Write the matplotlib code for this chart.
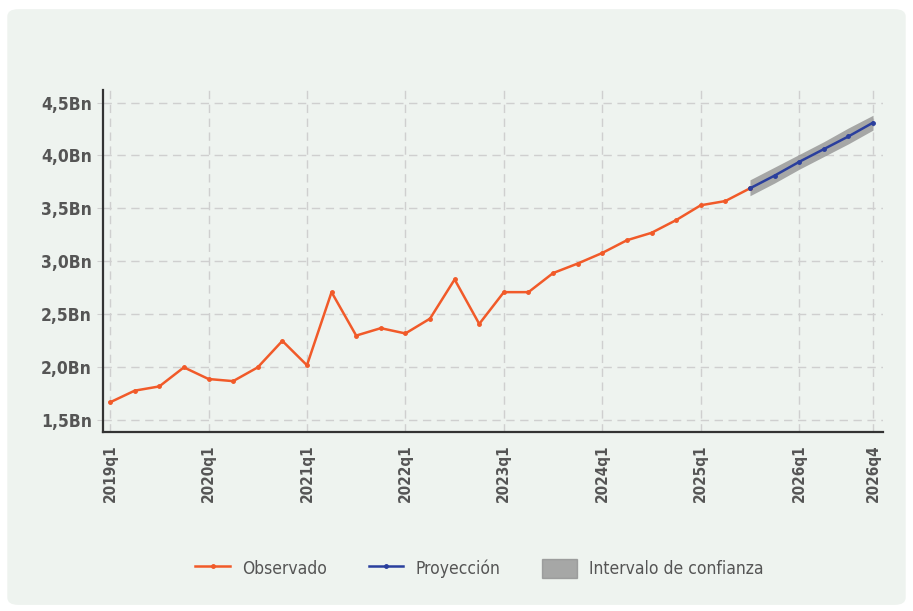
import numpy as np
import matplotlib.pyplot as plt
from matplotlib.patches import FancyBboxPatch

# quarters 2019q1 .. 2026q4
quarters = [f"{y}q{q}" for y in range(2019, 2027) for q in range(1, 5)]

observado = [1.67, 1.78, 1.82, 2.00, 1.89, 1.87, 2.00, 2.25,
             2.02, 2.71, 2.30, 2.37, 2.32, 2.46, 2.83, 2.41,
             2.71, 2.71, 2.89, 2.98, 3.08, 3.20, 3.27, 3.39,
             3.53, 3.57, 3.69]
proyeccion = [3.69, 3.81, 3.94, 4.06, 4.18, 4.31]
ic_inferior = [3.62, 3.74, 3.87, 3.99, 4.11, 4.24]
ic_superior = [3.77, 3.89, 4.01, 4.13, 4.26, 4.38]

xtick_labels = ["2019q1", "2020q1", "2021q1", "2022q1", "2023q1",
                "2024q1", "2025q1", "2026q1", "2026q4"]
ytick_values = [1.5, 2.0, 2.5, 3.0, 3.5, 4.0, 4.5]
ytick_labels = ["1,5Bn", "2,0Bn", "2,5Bn", "3,0Bn", "3,5Bn", "4,0Bn", "4,5Bn"]

orange = "#f15a29"
blue = "#2a3f9d"
band = "#8e8e8e"
txt = "#555555"

fig = plt.figure(figsize=(9.13, 6.11), dpi=100)
fig.patch.set_facecolor("white")
panel = FancyBboxPatch((0.008, 0.01), 0.984, 0.975, boxstyle="round,pad=0,rounding_size=0.012",
                       transform=fig.transFigure, facecolor="#eef3ef", edgecolor="none", zorder=-10)
fig.patches.append(panel)

ax = fig.add_axes([0.113, 0.293, 0.854, 0.56])
ax.set_facecolor("none")
ax.set_zorder(1)

x_obs = np.arange(len(observado))
x_proj = np.arange(len(observado) - 1, len(observado) - 1 + len(proyeccion))

ax.fill_between(x_proj, ic_inferior, ic_superior, color=band, alpha=0.75, lw=0, zorder=2)
ax.plot(x_obs, observado, color=orange, lw=1.8, marker="o", ms=2.5, zorder=3)
ax.plot(x_proj, proyeccion, color=blue, lw=1.8, marker="o", ms=2.5, zorder=4)

xt = [quarters.index(q) for q in xtick_labels]
ax.set_xticks(xt)
ax.set_xticklabels(xtick_labels, rotation=90, fontsize=11, fontweight="bold",
                   color=txt, fontstretch="condensed")
ax.set_yticks(ytick_values)
ax.set_yticklabels(ytick_labels, fontsize=12.5, fontweight="bold", color=txt,
                   fontstretch="condensed")
ax.set_xlim(-0.28, 31.4)
ax.set_ylim(1.39, 4.62)

ax.grid(True, color="#cfcfcf", ls=(0, (6, 4)), lw=1)
ax.tick_params(axis="x", length=0, pad=9)
ax.tick_params(axis="y", length=4, color="#cfcfcf", pad=4)
for s in ["top", "right"]:
    ax.spines[s].set_visible(False)
for s in ["left", "bottom"]:
    ax.spines[s].set_color("#333333")
    ax.spines[s].set_linewidth(1.6)

h1, = ax.plot([], [], color=orange, lw=1.8, marker="o", ms=2.5)
h2, = ax.plot([], [], color=blue, lw=1.8, marker="o", ms=2.5)
h3 = plt.Rectangle((0, 0), 1, 1, color=band, alpha=0.75)
leg = fig.legend([h1, h2, h3], ["Observado", "Proyección", "Intervalo de confianza"],
                 loc="center", bbox_to_anchor=(0.525, 0.07), ncol=3, frameon=False,
                 handlelength=2.0, handleheight=1.3, columnspacing=2.4, handletextpad=0.7,
                 prop={"size": 12.5, "stretch": "condensed", "weight": "medium"})
for t in leg.get_texts():
    t.set_color(txt)

fig.savefig("out.png", dpi=100, facecolor=fig.get_facecolor())
